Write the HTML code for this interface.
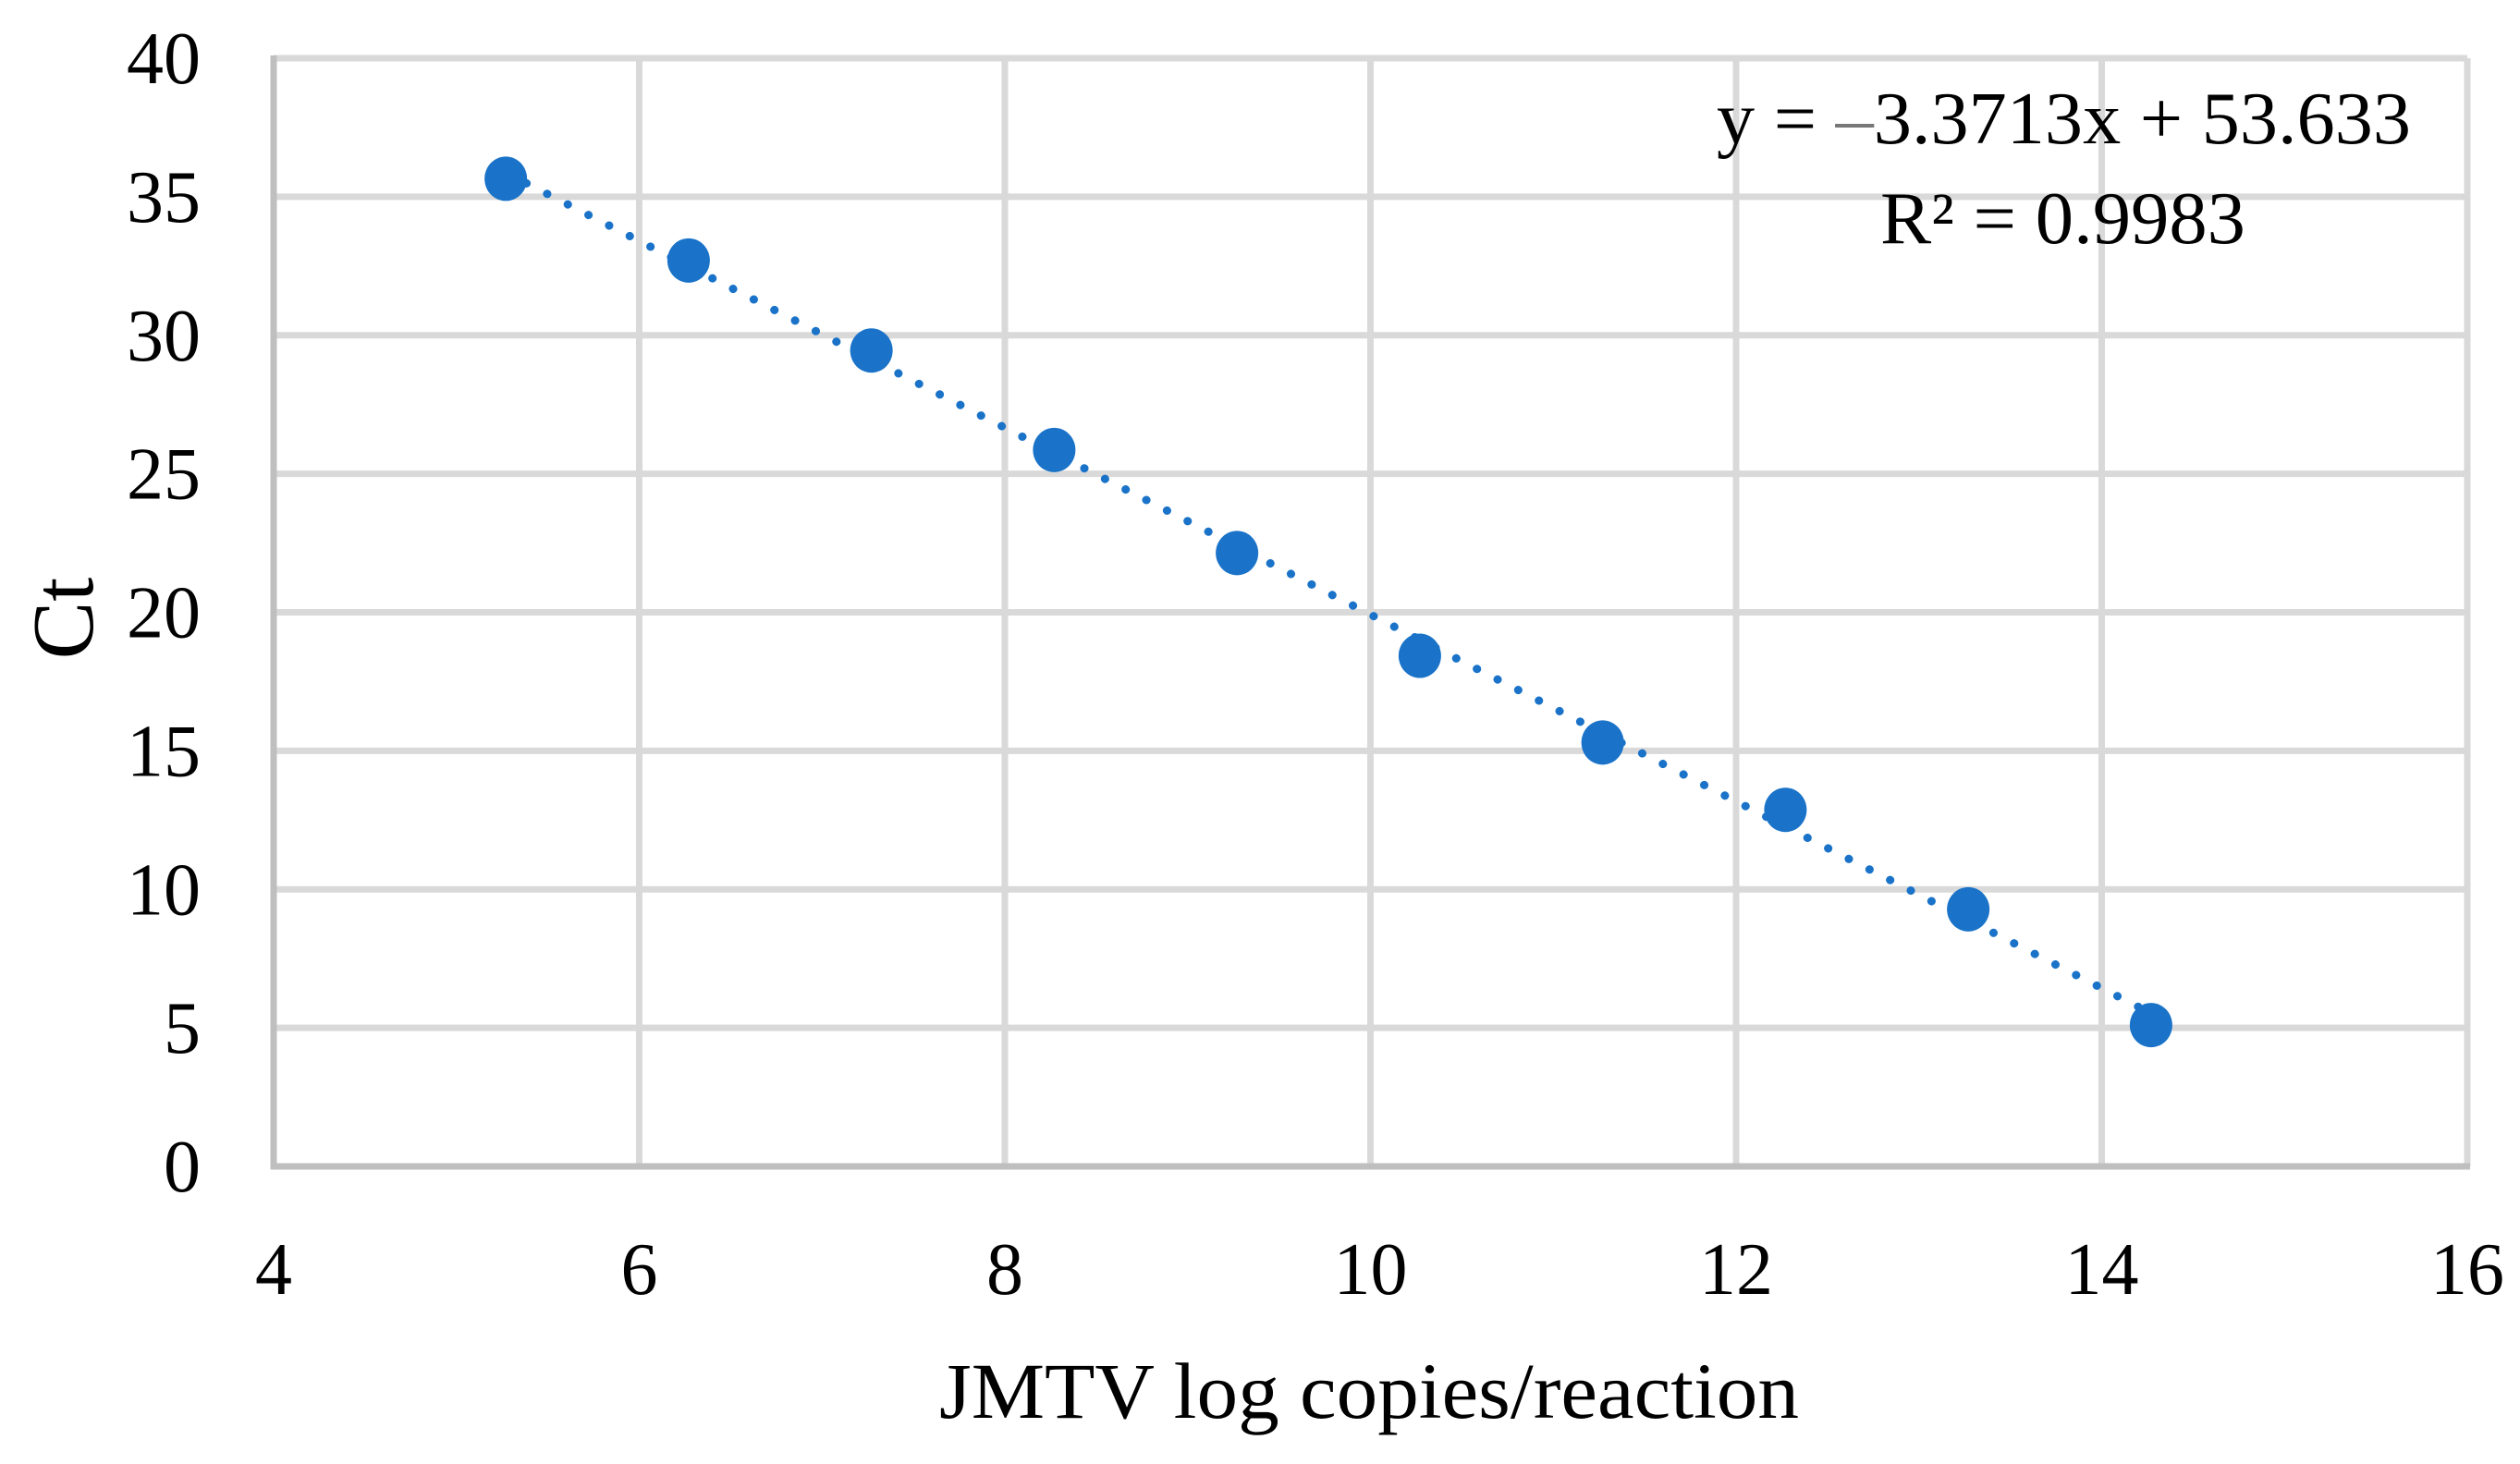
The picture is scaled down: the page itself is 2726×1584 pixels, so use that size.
<!DOCTYPE html>
<html><head><meta charset="utf-8"><style>
html,body{margin:0;padding:0;background:#fff;}
svg{display:block;}
text{font-family:"Liberation Serif",serif;fill:#000;}
</style></head><body>
<svg id="chart" width="2726" height="1584" viewBox="0 0 2726 1584" xmlns="http://www.w3.org/2000/svg">
<g id="grid"></g>
<g id="axes"></g>
<g id="trend"></g>
<g id="points"></g>
<g id="labels"></g>
<text x="1481" y="1534" font-size="86" text-anchor="middle" textLength="930" lengthAdjust="spacingAndGlyphs">JMTV log copies/reaction</text>
<text x="0" y="0" font-size="94" text-anchor="middle" transform="translate(100,669) rotate(-90)">Ct</text>
<text x="1857" y="155" font-size="80" textLength="751" lengthAdjust="spacingAndGlyphs">y = <tspan fill="#777">–</tspan>3.3713x + 53.633</text>
<text x="2034" y="263" font-size="80" textLength="395" lengthAdjust="spacingAndGlyphs">R² = 0.9983</text>
</svg>
<script>
const xValues = [5.27, 6.27, 7.27, 8.27, 9.27, 10.27, 11.27, 12.27, 13.27, 14.27];
const ctValues = [35.65, 32.7, 29.45, 25.86, 22.14, 18.43, 15.3, 12.87, 9.28, 5.1];
const xTicks = [4, 6, 8, 10, 12, 14, 16];
const yTicks = [0, 5, 10, 15, 20, 25, 30, 35, 40];
const slope = -3.3713;
const intercept = 53.633;

const NS = "http://www.w3.org/2000/svg";
const L = 296, R = 2669, T = 63, B = 1262;
const X = v => L + (v - 4) / 12 * (R - L);
const Y = v => B - v / 40 * (B - T);
function mk(tag, parent, attrs) {
  const e = document.createElementNS(NS, tag);
  for (const k in attrs) e.setAttribute(k, attrs[k]);
  document.getElementById(parent).appendChild(e);
  return e;
}
yTicks.forEach(t => {
  if (t === 0) return;
  const g = mk('line', 'grid', {x1: L, x2: R, y1: Y(t), y2: Y(t), stroke: '#d9d9d9', 'stroke-width': 7});
  
  
});
xTicks.forEach(t => {
  if (t === 4) return;
  const g = mk('line', 'grid', {x1: X(t), x2: X(t), y1: T, y2: B, stroke: '#d9d9d9', 'stroke-width': 7});
  
  
});
const xa = mk('line', 'axes', {x1: L - 3, x2: R + 3, y1: B, y2: B, stroke: '#bfbfbf', 'stroke-width': 7});


const ya = mk('line', 'axes', {x1: L, x2: L, y1: T - 3, y2: B + 3, stroke: '#bfbfbf', 'stroke-width': 7});



const x0 = xValues[0], x1 = xValues[xValues.length - 1];
const tl = mk('line', 'trend', {x1: X(x0), y1: Y(slope * x0 + intercept), x2: X(x1), y2: Y(slope * x1 + intercept), stroke: '#1a73c8', 'stroke-width': 9, 'stroke-linecap': 'round', 'stroke-dasharray': '0.1 25'});



xValues.forEach((x, i) => {
  const c = mk('ellipse', 'points', {cx: X(x), cy: Y(ctValues[i]), rx: 23, ry: 24, fill: '#1a73c8'});
  
  
});
yTicks.forEach(t => {
  const e = mk('text', 'labels', {x: 217, y: Y(t) + 27, 'font-size': 80, 'text-anchor': 'end'});
  e.textContent = t;
  
  
});
xTicks.forEach(t => {
  const e = mk('text', 'labels', {x: X(t), y: 1400, 'font-size': 80, 'text-anchor': 'middle'});
  e.textContent = t;
  
  
});
</script>
</body></html>
